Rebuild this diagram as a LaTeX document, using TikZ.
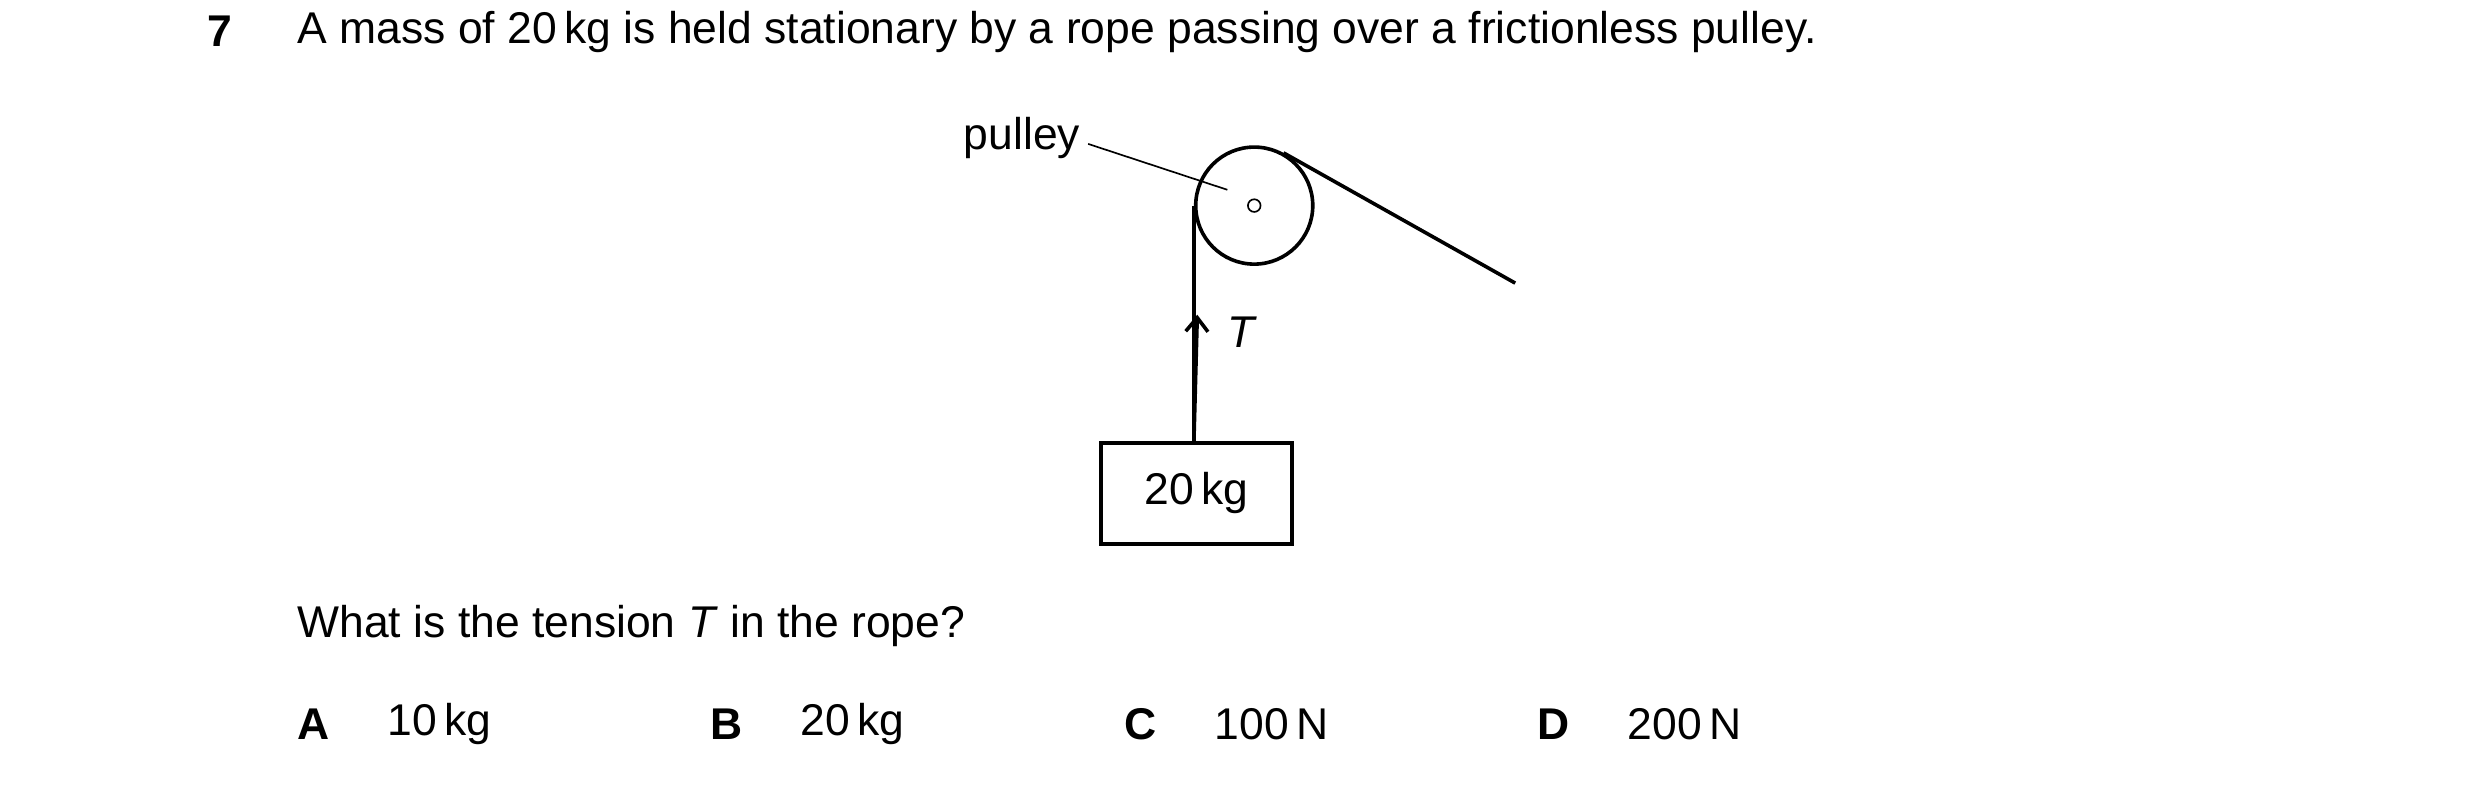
\documentclass[tikz,border=0pt]{standalone}
\usepackage{fontspec}
\setmainfont{Liberation Sans}
\usetikzlibrary{arrows.meta}
\begin{document}
\begin{tikzpicture}[x=0.02cm,y=-0.02cm,line width=1.3pt,
  txt/.style={font=\fontsize{16}{19}\selectfont,inner sep=0pt},
  bold/.style={txt,font=\fontsize{16}{19}\selectfont\bfseries}]
\useasboundingbox (0,0) rectangle (1568,499);
\node[bold,anchor=west] (num) at (130,20) {7};
\node[txt,anchor=west] (q1) at (187,20) {A mass of 20\,kg is held stationary by a rope passing over a frictionless pulley.};
\node[circle,draw,minimum size=74*0.02cm,inner sep=0pt] (pul) at (793,130) {};
\node[circle,draw,line width=0.6pt,minimum size=0.16cm,inner sep=0pt] (axle) at (793,130) {};
\node[draw,minimum width=121*0.02cm,minimum height=64*0.02cm,txt] (mass) at (756.5,312) {20\,kg};
\coordinate (free) at (958,179);
\draw (mass.north -| pul.west) -- (pul.west);
\draw (pul.61.1) -- (free);
\draw[-{Straight Barb[length=5pt,width=8pt]}] (pul.west |- mass.north) -- (757,199);
\node[txt,anchor=west] (T) at (775,210) {\itshape T};
\node[txt,anchor=east] (plab) at (684,87) {pulley};
\draw[line width=0.6pt] (688,91) -- (776,120);
\node[txt,anchor=west] (q2) at (187,396) {What is the tension \textit{T} in the rope?};
\foreach \l/\x/\v in {A/187/10\,kg,B/448/20\,kg,C/710/100\,N,D/971/200\,N}{
  \node[bold,anchor=west] (opt\l) at (\x,458) {\l};
  \node[txt,anchor=west] (val\l) at (\x+57,458) {\v};
}
\end{tikzpicture}
\end{document}
